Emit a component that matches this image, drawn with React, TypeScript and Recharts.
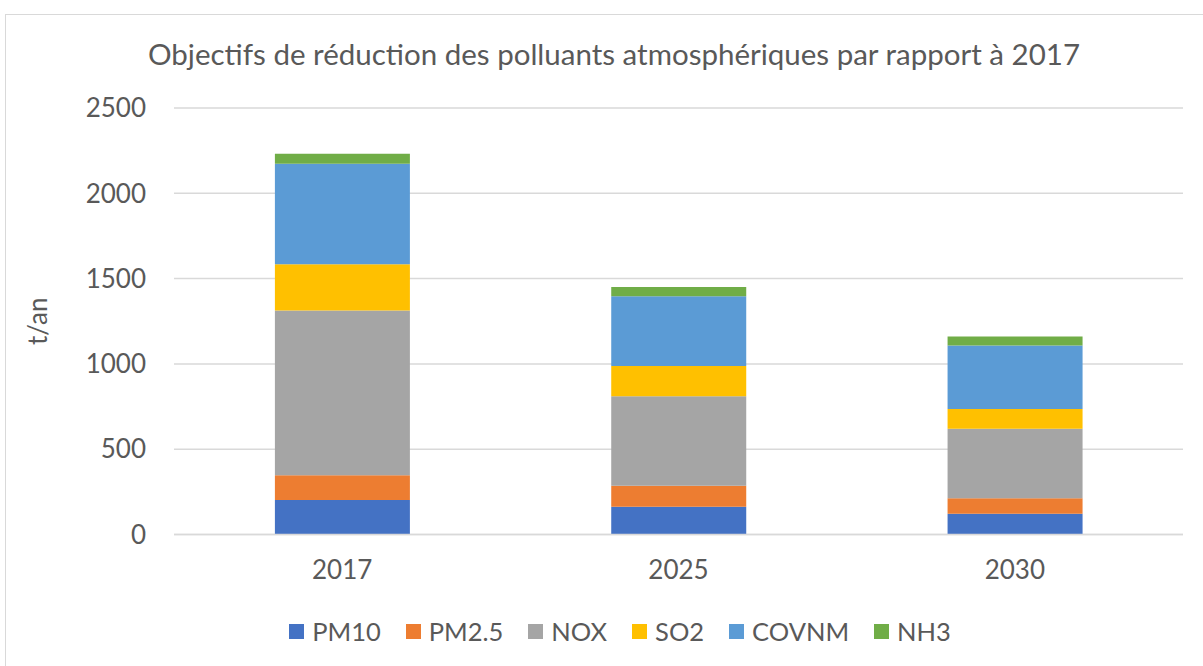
import React from 'react';
import { BarChart, Bar, XAxis, YAxis, CartesianGrid } from 'recharts';

const years = ['2017', '2025', '2030'];
const pm10 = [202, 163, 122];
const pm25 = [145, 123, 90];
const nox = [966, 525, 408];
const so2 = [271, 176, 115];
const covnm = [589, 409, 373];
const nh3 = [59, 55, 52];
const yTicks = [0, 500, 1000, 1500, 2000, 2500];

const series = [
  { key: 'PM10', values: pm10, color: '#4472c4' },
  { key: 'PM2.5', values: pm25, color: '#ed7d31' },
  { key: 'NOX', values: nox, color: '#a5a5a5' },
  { key: 'SO2', values: so2, color: '#ffc000' },
  { key: 'COVNM', values: covnm, color: '#5b9bd5' },
  { key: 'NH3', values: nh3, color: '#70ad47' },
];

const data = years.map((year, i) => {
  const row: Record<string, string | number> = { year };
  series.forEach((s) => {
    row[s.key] = s.values[i];
  });
  return row;
});

const FONT = 'Lato, "Open Sans", sans-serif';
const TEXT = '#595959';

const App: React.FC = () => {
  return (
    <div style={{ position: 'absolute', left: 0, top: 0, width: 1203, height: 666, overflow: 'hidden', background: '#fff' }}>
      <div
        style={{
          position: 'absolute',
          left: 5,
          top: 14,
          width: 1220,
          height: 680,
          border: '1px solid #d9d9d9',
        }}
      />
      <div
        style={{
          position: 'absolute',
          left: 0,
          top: 36,
          width: 1228,
          textAlign: 'center',
          fontFamily: FONT,
          fontSize: 29.5,
          color: TEXT,
        }}
      >
        Objectifs de réduction des polluants atmosphériques par rapport à 2017
      </div>
      <div style={{ position: 'absolute', left: 0, top: 0 }}>
        <BarChart
          width={1203}
          height={666}
          data={data}
          margin={{ top: 108, right: 20, left: 74, bottom: 85.5 }}
          barCategoryGap="30%"
        >
          <CartesianGrid vertical={false} stroke="#d9d9d9" strokeWidth={1.5} />
          <XAxis
            dataKey="year"
            axisLine={{ stroke: '#d9d9d9', strokeWidth: 1.5 }}
            tickLine={false}
            tick={{ fill: TEXT, fontSize: 26, fontFamily: FONT }}
            tickMargin={20}
            height={46}
          />
          <YAxis
            domain={[0, 2500]}
            ticks={yTicks}
            axisLine={false}
            tickLine={false}
            tick={{ fill: TEXT, fontSize: 26, fontFamily: FONT }}
            tickMargin={22}
            width={100}
            label={{
              value: 't/an',
              angle: -90,
              position: 'insideLeft',
              offset: -36,
              style: { fill: TEXT, fontSize: 26, fontFamily: FONT, textAnchor: 'middle' },
            }}
          />
          {series.map((s) => (
            <Bar key={s.key} dataKey={s.key} stackId="a" fill={s.color} isAnimationActive={false} />
          ))}
        </BarChart>
      </div>
      <div
        style={{
          position: 'absolute',
          left: 0,
          top: 616,
          width: 1240,
          display: 'flex',
          justifyContent: 'center',
          gap: 25,
          fontFamily: FONT,
          fontSize: 25.5,
          color: TEXT,
        }}
      >
        {series.map((s) => (
          <div key={s.key} style={{ display: 'flex', alignItems: 'center' }}>
            <span style={{ display: 'inline-block', width: 15, height: 15, background: s.color, marginRight: 8 }} />
            <span>{s.key}</span>
          </div>
        ))}
      </div>
    </div>
  );
};

export default App;
